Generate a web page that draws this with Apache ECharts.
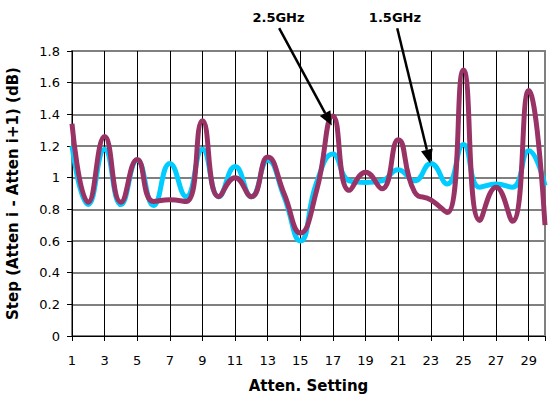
<!DOCTYPE html>
<html><head><meta charset="utf-8">
<script src="https://cdn.jsdelivr.net/npm/echarts@6/dist/echarts.min.js"></script>
<style>html,body{margin:0;padding:0;background:#fff;overflow:hidden}#c{width:548px;height:400px}</style>
</head><body><div id="c"></div>
<script>
var categories = [];
for (var i = 1; i <= 30; i++) categories.push(String(i));
var ghz15 = [1.20, 0.83, 1.18, 0.83, 1.11, 0.825, 1.09, 0.88, 1.18, 0.88, 1.07, 0.88, 1.11, 0.88, 0.60, 0.97, 1.15, 0.98, 0.97, 0.98, 1.05, 0.98, 1.09, 0.96, 1.21, 0.94, 0.96, 0.94, 1.17, 0.95];
var ghz25 = [1.34, 0.845, 1.26, 0.845, 1.115, 0.85, 0.86, 0.85, 1.36, 0.88, 1.00, 0.88, 1.13, 0.90, 0.65, 0.92, 1.39, 0.92, 1.035, 0.93, 1.24, 0.91, 0.86, 0.78, 1.68, 0.73, 0.94, 0.725, 1.55, 0.70];
// annotations: [setting, dB] in data space
var notes = [
  {text: '2.5GHz', label: [13.66, 2.013], from: [13.7, 1.944], to: [16.93, 1.33]},
  {text: '1.5GHz', label: [20.8, 2.013], from: [20.94, 1.944], to: [22.96, 1.09]}
];
var FONT = 'DejaVu Sans';
var chart = echarts.init(document.getElementById('c'), null, {renderer: 'svg', width: 548, height: 400});
chart.setOption({
  animation: false,
  grid: {left: 72, right: 3, top: 51, bottom: 64, containLabel: false, outerBoundsMode: 'none',
         show: true, borderColor: '#808080', borderWidth: 2, backgroundColor: 'transparent'},
  xAxis: {
    type: 'category', data: categories, boundaryGap: false,
    name: 'Atten. Setting', nameLocation: 'middle', nameGap: 42,
    nameTextStyle: {fontFamily: FONT, fontWeight: 'bold', fontSize: 15, color: '#000'},
    axisLine: {show: true, lineStyle: {color: '#000', width: 1}},
    axisTick: {show: true, length: 5, lineStyle: {color: '#000'},
      interval: function (idx) { return idx % 2 === 0 || idx === categories.length - 1; }},
    axisLabel: {interval: 1, fontFamily: FONT, fontSize: 13, color: '#000', margin: 18},
    splitLine: {show: true, interval: 1, lineStyle: {color: '#000', width: 1}}
  },
  yAxis: {
    type: 'value', min: 0, max: 1.8, interval: 0.2,
    name: 'Step (Atten i - Atten i+1) (dB)', nameLocation: 'middle', nameGap: 52,
    nameTextStyle: {fontFamily: FONT, fontWeight: 'bold', fontSize: 15, color: '#000'},
    axisLine: {show: true, lineStyle: {color: '#000', width: 1}},
    axisTick: {show: true, length: 5, lineStyle: {color: '#000'}},
    axisLabel: {fontFamily: FONT, fontSize: 13, color: '#000', margin: 12,
      formatter: function (v) { return String(Math.round(v * 10) / 10); }},
    splitLine: {show: true, lineStyle: {color: '#808080', width: 2}}
  },
  series: [
    {name: '1.5GHz', type: 'line', data: ghz15, smooth: 0.5, symbol: 'none',
     lineStyle: {color: '#00CCFF', width: 5}, z: 3},
    {name: '2.5GHz', type: 'line', data: ghz25, smooth: 0.5, symbol: 'none',
     lineStyle: {color: '#993366', width: 5}, z: 4}
  ]
});
function px(p) {
  var x0 = chart.convertToPixel({xAxisIndex: 0}, 0);
  var x1 = chart.convertToPixel({xAxisIndex: 0}, 1);
  var y = chart.convertToPixel({yAxisIndex: 0}, p[1]);
  return [x0 + (p[0] - 1) * (x1 - x0), y];
}
var els = [];
notes.forEach(function (n) {
  var a = px(n.from), b = px(n.to), l = px(n.label);
  var dx = b[0] - a[0], dy = b[1] - a[1], len = Math.sqrt(dx * dx + dy * dy);
  var ux = dx / len, uy = dy / len, hl = 14, hw = 6;
  var bx = b[0] - ux * hl, by = b[1] - uy * hl;
  els.push({type: 'line', shape: {x1: a[0], y1: a[1], x2: bx, y2: by}, style: {stroke: '#000', lineWidth: 2.5}, z: 10});
  els.push({type: 'polygon', shape: {points: [[b[0], b[1]], [bx - uy * hw, by + ux * hw], [bx + uy * hw, by - ux * hw]]}, style: {fill: '#000'}, z: 10});
  els.push({type: 'text', x: l[0], y: l[1], style: {text: n.text, fontFamily: FONT, fontWeight: 'bold', fontSize: 13, fill: '#000', align: 'center', verticalAlign: 'middle'}, z: 10});
});
chart.setOption({graphic: els});
</script></body></html>
